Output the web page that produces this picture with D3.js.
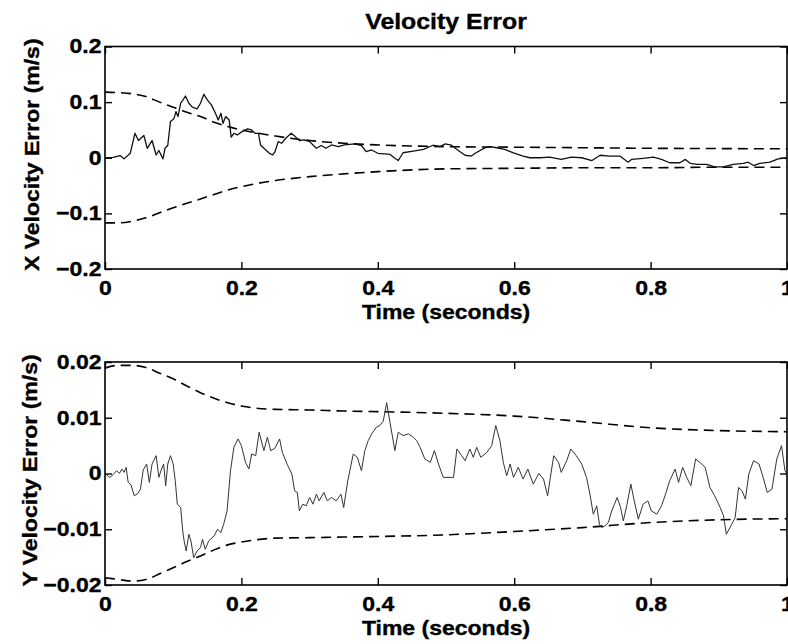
<!DOCTYPE html>
<html lang="en">
<head>
<meta charset="utf-8" />
<title>Velocity Error</title>
<script src="https://cdn.jsdelivr.net/npm/d3@7/dist/d3.min.js"></script>
<style>
  body { margin: 0; background: #fff; }
  svg { display: block; }
  text { font-family: "Liberation Sans", Arial, Helvetica, sans-serif; font-weight: bold; fill: #000;
         stroke: #000; stroke-width: 0.35px; }
  .frame { fill: none; stroke: #000; stroke-width: 1.6px; }
  .tick line { stroke: #000; stroke-width: 1.4px; }
  .trace { fill: none; stroke: #111; stroke-width: 1.3px; stroke-linejoin: round; }
  .trace.thin { stroke: #333; stroke-width: 1px; }
  .bound { fill: none; stroke: #000; stroke-width: 1.6px; stroke-dasharray: 10 6; }
</style>
</head>
<body>
<script>
// ---- data ----
const xTicks = [0, 0.2, 0.4, 0.6, 0.8, 1];
const xTickLabels = ['0', '0.2', '0.4', '0.6', '0.8', '1'];

const vxTicks = [-0.2, -0.1, 0, 0.1, 0.2];
const vxTickLabels = ['\u22120.2', '\u22120.1', '0', '0.1', '0.2'];
const vyTicks = [-0.02, -0.01, 0, 0.01, 0.02];
const vyTickLabels = ['\u22120.02', '\u22120.01', '0', '0.01', '0.02'];

// time grid for the 1-sigma bounds (dashed)
const tBound = [0, 0.02, 0.04, 0.06, 0.08, 0.1, 0.12, 0.14, 0.16, 0.18, 0.2,
                0.25, 0.3, 0.35, 0.4, 0.5, 0.6, 0.7, 0.8, 0.9, 1.0];
const vxUpper = [0.118, 0.117, 0.115, 0.110, 0.100, 0.091, 0.082, 0.074, 0.064, 0.056, 0.050,
                 0.039, 0.031, 0.026, 0.023, 0.020, 0.019, 0.018, 0.017, 0.0165, 0.016];
const vxLower = [-0.117, -0.117, -0.114, -0.108, -0.099, -0.090, -0.082, -0.074, -0.066, -0.058, -0.052,
                 -0.041, -0.034, -0.029, -0.025, -0.020, -0.019, -0.018, -0.018, -0.017, -0.017];
const vyUpper = [0.0189, 0.0194, 0.0194, 0.0190, 0.0180, 0.0170, 0.0157, 0.0145, 0.0135, 0.0127, 0.0121,
                 0.0115, 0.0114, 0.0112, 0.0111, 0.0108, 0.0103, 0.0093, 0.0082, 0.0077, 0.0075];
const vyLower = [-0.0187, -0.0190, -0.0193, -0.0190, -0.0180, -0.0169, -0.0158, -0.0148, -0.0137, -0.0128, -0.0123,
                 -0.0116, -0.0115, -0.0114, -0.0113, -0.0110, -0.0104, -0.0097, -0.0088, -0.0083, -0.0081];

// X velocity error trace [t, v]
const vxError = [
  [0,0],[0.012,0.0006],[0.022,0.004],[0.028,-0.002],[0.037,0.008],[0.044,0.044],[0.049,0.031],
  [0.057,0.040],[0.062,0.017],[0.069,0.031],[0.075,0.005],[0.079,0.013],[0.085,-0.002],[0.088,0.017],
  [0.092,0.022],[0.096,0.065],[0.101,0.070],[0.104,0.083],[0.107,0.074],[0.111,0.098],[0.114,0.103],
  [0.118,0.111],[0.123,0.098],[0.128,0.091],[0.135,0.088],[0.140,0.098],[0.145,0.114],[0.150,0.104],
  [0.156,0.095],[0.162,0.080],[0.166,0.068],[0.170,0.080],[0.173,0.062],[0.177,0.074],[0.182,0.068],
  [0.185,0.037],[0.189,0.044],[0.194,0.041],[0.201,0.047],[0.209,0.052],[0.215,0.050],[0.220,0.044],
  [0.225,0.044],[0.228,0.023],[0.233,0.017],[0.241,0.008],[0.246,0.005],[0.249,0.010],[0.254,0.029],
  [0.259,0.026],[0.265,0.035],[0.273,0.044],[0.279,0.038],[0.285,0.031],[0.292,0.032],[0.300,0.029],
  [0.310,0.017],[0.317,0.022],[0.324,0.017],[0.332,0.023],[0.342,0.020],[0.351,0.023],[0.366,0.025],
  [0.376,0.022],[0.383,0.011],[0.391,0.014],[0.400,0.008],[0.410,0.007],[0.418,0.006],[0.425,-0.001],
  [0.430,-0.005],[0.437,0.009],[0.452,0.012],[0.467,0.015],[0.481,0.0225],[0.491,0.020],[0.499,0.025],
  [0.508,0.0225],[0.516,0.015],[0.528,0.0045],[0.537,0.003],[0.544,0.009],[0.557,0.0177],[0.565,0.020],
  [0.574,0.018],[0.586,0.015],[0.599,0.0087],[0.613,0.003],[0.623,0.000],[0.638,0.000],[0.652,0.001],
  [0.669,-0.003],[0.684,0.001],[0.699,0.000],[0.714,-0.005],[0.726,0.0045],[0.740,0.003],[0.755,0.003],
  [0.767,-0.008],[0.772,-0.003],[0.789,-0.001],[0.804,0.001],[0.816,-0.003],[0.828,-0.009],[0.843,-0.009],
  [0.851,-0.003],[0.858,-0.010],[0.868,-0.012],[0.882,-0.012],[0.894,-0.0165],[0.907,-0.0165],
  [0.921,-0.012],[0.936,-0.010],[0.943,-0.008],[0.951,-0.014],[0.960,-0.010],[0.975,-0.008],
  [0.987,-0.002],[1.0,0.000]
];

// Y velocity error trace [t, v]
const vyError = [
  [0,0],[0.007,-0.0007],[0.012,-0.0002],[0.017,0.0005],[0.021,0],[0.025,0.0008],[0.028,0.0002],
  [0.031,0.0011],[0.034,-0.0016],[0.038,-0.002],[0.043,-0.004],[0.048,-0.0036],[0.052,-0.0028],
  [0.056,0.0006],[0.061,0.0017],[0.065,-0.0016],[0.069,0.0017],[0.075,0.0032],[0.079,-0.0007],
  [0.082,0.0005],[0.086,0.0017],[0.089,-0.0022],[0.092,0.0017],[0.096,0.0032],[0.100,0.0017],
  [0.103,-0.0013],[0.106,-0.0055],[0.111,-0.0061],[0.114,-0.0103],[0.116,-0.0121],[0.119,-0.0139],
  [0.123,-0.0109],[0.126,-0.0121],[0.130,-0.0151],[0.135,-0.0139],[0.140,-0.0133],[0.143,-0.0118],
  [0.147,-0.0136],[0.152,-0.0121],[0.160,-0.0112],[0.165,-0.0100],[0.170,-0.0106],[0.174,-0.0091],
  [0.179,-0.0067],[0.184,0.0005],[0.189,0.0047],[0.195,0.0062],[0.200,0.0050],[0.206,0.0020],
  [0.211,0.0008],[0.215,0.0035],[0.221,0.0032],[0.226,0.0074],[0.233,0.0041],[0.238,0.0065],
  [0.243,0.0041],[0.249,0.0045],[0.256,0.0062],[0.260,0.0038],[0.268,0.0014],[0.274,-0.0001],
  [0.278,-0.0031],[0.282,-0.0034],[0.285,-0.0067],[0.290,-0.0055],[0.295,-0.0058],[0.300,-0.0043],
  [0.305,-0.0055],[0.310,-0.0037],[0.314,-0.0049],[0.321,-0.0034],[0.326,-0.0049],[0.332,-0.0043],
  [0.339,-0.0049],[0.346,-0.0037],[0.350,-0.0061],[0.356,-0.0013],[0.364,0.0035],[0.370,0.0029],
  [0.376,0.0005],[0.381,0.0041],[0.386,0.0059],[0.391,0.0071],[0.398,0.0083],[0.403,0.0086],
  [0.408,0.0094],[0.413,0.0127],[0.418,0.0091],[0.425,0.0041],[0.430,0.0074],[0.437,0.0068],
  [0.445,0.0071],[0.452,0.0065],[0.457,0.0059],[0.462,0.0047],[0.469,0.0026],[0.477,0.0020],
  [0.483,0.0041],[0.489,0.0017],[0.496,-0.0007],[0.503,-0.0007],[0.511,-0.0007],[0.516,0.0044],
  [0.523,0.0032],[0.528,0.0023],[0.535,0.0044],[0.540,0.0029],[0.545,0.0047],[0.551,0.0029],
  [0.560,0.0038],[0.567,0.0050],[0.573,0.0086],[0.579,0.0059],[0.584,0.0020],[0.589,-0.0004],
  [0.594,0.0017],[0.599,-0.0007],[0.606,0.0011],[0.613,-0.0010],[0.620,0.0008],[0.628,-0.0019],
  [0.636,0.0000],[0.643,-0.0010],[0.649,-0.0040],[0.653,-0.0007],[0.658,0.0032],[0.665,0.0020],
  [0.669,0.0002],[0.677,0.0023],[0.683,0.0044],[0.691,0.0032],[0.699,0.0017],[0.706,-0.0007],
  [0.711,-0.0037],[0.716,-0.0073],[0.721,-0.0058],[0.725,-0.0091],[0.728,-0.0097],[0.733,-0.0094],
  [0.738,-0.0088],[0.743,-0.0067],[0.746,-0.0058],[0.751,-0.0043],[0.756,-0.0061],[0.760,-0.0085],
  [0.765,-0.0058],[0.771,-0.0019],[0.776,-0.0049],[0.782,-0.0082],[0.789,-0.0055],[0.796,-0.0049],
  [0.801,-0.0067],[0.809,-0.0073],[0.816,-0.0058],[0.822,-0.0037],[0.828,-0.0013],[0.836,0.0008],
  [0.841,-0.0016],[0.847,0.0011],[0.853,-0.0007],[0.859,-0.0022],[0.866,0.0026],[0.875,0.0017],
  [0.880,0.0011],[0.887,-0.0025],[0.894,-0.0040],[0.902,-0.0061],[0.907,-0.0076],[0.911,-0.0109],
  [0.919,-0.0091],[0.924,-0.0079],[0.929,-0.0025],[0.934,-0.0031],[0.939,-0.0046],[0.944,-0.0001],
  [0.951,0.0023],[0.959,0.0017],[0.965,-0.0007],[0.971,-0.0034],[0.978,-0.0028],[0.985,0.0026],
  [0.992,0.0050],[0.997,0.0005],[1.0,-0.0001]
];

// ---- layout ----
const W = 788, H = 644;
const L = 105, R = 787;
const FS = 20, STRETCH = 1.15;   // scanned glyphs are wide: stretch them a bit

const svg = d3.select('body').append('svg').attr('width', W).attr('height', H);

const x = d3.scaleLinear().domain([0, 1]).range([L, R]);

// stretched text helper
function label(sel, px, py, str, opts = {}) {
  const rot = opts.rotate ? ' rotate(-90)' : '';
  return sel.append('text')
    .attr('transform', `translate(${px},${py})${rot} scale(${opts.stretch || STRETCH},1)`)
    .attr('text-anchor', opts.anchor || 'middle')
    .style('font-size', (opts.size || FS) + 'px')
    .text(str);
}

function panel(cfg) {
  const y = d3.scaleLinear().domain(cfg.domain).range([cfg.bottom, cfg.top]);
  const g = svg.append('g');

  // tick marks on all four sides, pointing inward
  g.append('g').attr('transform', `translate(0,${cfg.bottom})`)
    .call(d3.axisBottom(x).tickValues(xTicks).tickSizeInner(-7).tickSizeOuter(0)
      .tickPadding(12).tickFormat((d, i) => xTickLabels[i]))
    .call(a => a.select('.domain').remove())
    .call(a => a.selectAll('text').attr('transform', `scale(${STRETCH},1)`)
      .style('font-size', FS + 'px'));
  g.append('g').attr('transform', `translate(0,${cfg.top})`)
    .call(d3.axisTop(x).tickValues(xTicks).tickSizeInner(-7).tickSizeOuter(0).tickFormat(''))
    .call(a => a.select('.domain').remove());
  g.append('g').attr('transform', `translate(${L},0)`)
    .call(d3.axisLeft(y).tickValues(cfg.ticks).tickSizeInner(-7).tickSizeOuter(0)
      .tickPadding(3.5).tickFormat((d, i) => cfg.tickLabels[i]))
    .call(a => a.select('.domain').remove())
    .call(a => a.selectAll('text')
      .attr('x', -3.5 / STRETCH)
      .attr('transform', `scale(${STRETCH},1)`)
      .style('font-size', FS + 'px'));
  g.append('g').attr('transform', `translate(${R},0)`)
    .call(d3.axisRight(y).tickValues(cfg.ticks).tickSizeInner(-7).tickSizeOuter(0).tickFormat(''))
    .call(a => a.select('.domain').remove());
  g.selectAll('.tick text').attr('fill', '#000').attr('font-family', null).attr('font-size', null);

  // bounds
  const line = d3.line().x(d => x(d[0])).y(d => y(d[1]));
  const smooth = d3.line().x(d => x(d[0])).y(d => y(d[1])).curve(d3.curveMonotoneX);
  [cfg.upper, cfg.lower].forEach(b => {
    g.append('path').attr('class', 'bound')
      .attr('d', smooth(tBound.map((t, i) => [t, b[i]])));
  });

  // error trace
  g.append('path').attr('class', 'trace' + (cfg.thin ? ' thin' : ''))
    .attr('d', line(cfg.trace));

  // frame
  g.append('rect').attr('class', 'frame')
    .attr('x', L).attr('y', cfg.top).attr('width', R - L).attr('height', cfg.bottom - cfg.top);

  label(g, (L + R) / 2, cfg.bottom + 50, 'Time (seconds)');
  label(g, cfg.ylabelX, (cfg.top + cfg.bottom) / 2 - 3, cfg.ylabel, { rotate: true });
}

label(svg, (L + R) / 2, 29, 'Velocity Error', { size: 22, stretch: 1.13 });

panel({
  top: 46.5, bottom: 269, domain: [-0.2, 0.2],
  ticks: vxTicks, tickLabels: vxTickLabels,
  upper: vxUpper, lower: vxLower, trace: vxError,
  ylabel: 'X Velocity Error (m/s)', ylabelX: 39
});

panel({
  top: 362, bottom: 585, domain: [-0.02, 0.02],
  ticks: vyTicks, tickLabels: vyTickLabels,
  upper: vyUpper, lower: vyLower, trace: vyError, thin: true,
  ylabel: 'Y Velocity Error (m/s)', ylabelX: 37
});
</script>
</body>
</html>
